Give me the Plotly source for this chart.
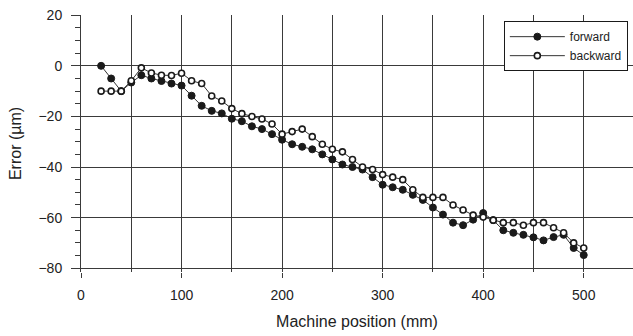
import plotly.graph_objects as go

positions = [20, 30, 40, 50, 60, 70, 80, 90, 100, 110, 120, 130, 140, 150, 160, 170, 180, 190,
             200, 210, 220, 230, 240, 250, 260, 270, 280, 290, 300, 310, 320, 330, 340, 350,
             360, 370, 380, 390, 400, 410, 420, 430, 440, 450, 460, 470, 480, 490, 500]

forward = [0, -5, -10, -6.6, -3.7, -5, -6, -7, -7.8, -11.8, -15.8, -17.8, -18.8, -20.9, -21.9,
           -23.9, -25, -27, -29.2, -31, -32, -33, -35, -37, -39, -40, -41, -44, -47, -48, -49,
           -51, -53, -56, -58.8, -62, -63, -60.8, -58.2, -61, -65, -66, -66.8, -67.8, -69,
           -67.7, -66.8, -72, -74.8]

backward = [-10, -10, -10, -5.9, -0.8, -2.8, -3.7, -3.8, -2.9, -5.9, -7, -11.9, -13.9, -16.9,
            -18.9, -20, -21, -23, -27, -26, -25, -28, -31, -33, -34, -37, -40, -41, -43, -44,
            -45, -49, -52, -52, -52, -55, -57, -59, -59.8, -61, -62, -62, -63, -62, -62, -64,
            -66, -70, -72]

x_ticks = [0, 100, 200, 300, 400, 500]
y_ticks = [-80, -60, -40, -20, 0, 20]

FONT = "Arial, Liberation Sans, sans-serif"
GRID = "#3a3a3a"

fig = go.Figure()
fig.add_trace(go.Scatter(
    x=positions, y=forward, name="forward", mode="lines+markers",
    line=dict(color="#333333", width=1),
    marker=dict(symbol="circle", size=7, color="#1a1a1a", line=dict(color="#1a1a1a", width=1)),
))
fig.add_trace(go.Scatter(
    x=positions, y=backward, name="backward", mode="lines+markers",
    line=dict(color="#333333", width=1),
    marker=dict(symbol="circle", size=6, color="white", line=dict(color="#1a1a1a", width=1.6)),
))

fig.update_layout(
    width=633, height=336,
    margin=dict(l=81, r=0, t=15, b=64),
    paper_bgcolor="white", plot_bgcolor="white",
    font=dict(family=FONT, size=14, color="#222222"),
    showlegend=True,
    legend=dict(
        x=0.766, xanchor="left", y=0.976, yanchor="top",
        bgcolor="white", bordercolor="#1a1a1a", borderwidth=1,
        font=dict(size=12, family=FONT, color="#222222"),
        tracegroupgap=0, itemwidth=55,
    ),
)

fig.update_xaxes(
    range=[0, 549], automargin=False,
    tickvals=x_ticks, ticktext=[str(v) for v in x_ticks],
    showgrid=True, gridcolor=GRID, gridwidth=1,
    minor=dict(dtick=50, tick0=0, showgrid=True, gridcolor=GRID, gridwidth=1, ticks=""),
    ticks="outside", ticklen=5, tickcolor=GRID, tickwidth=1,
    showline=False, zeroline=False,
    ticklabelstandoff=5,
    tickfont=dict(size=14),
    title=dict(text="Machine position (mm)", font=dict(size=16), standoff=14),
)
fig.update_yaxes(
    range=[-81.5, 20.1], automargin=False,
    tickvals=y_ticks, ticktext=[str(v).replace("-", "\u2212") for v in y_ticks],
    showgrid=True, gridcolor=GRID, gridwidth=1,
    minor=dict(dtick=5, tick0=0, showgrid=False, ticks="outside", ticklen=5, tickcolor=GRID, tickwidth=1),
    ticks="outside", ticklen=9, tickcolor=GRID, tickwidth=1,
    showline=True, linecolor=GRID, linewidth=1,
    zeroline=False,
    ticklabelstandoff=6,
    tickfont=dict(size=14),
    title=dict(text="Error (µm)", font=dict(size=16), standoff=12),
)

fig.write_html("out.html", config={"displayModeBar": False},
               post_script="document.body.style.margin='0px';")
